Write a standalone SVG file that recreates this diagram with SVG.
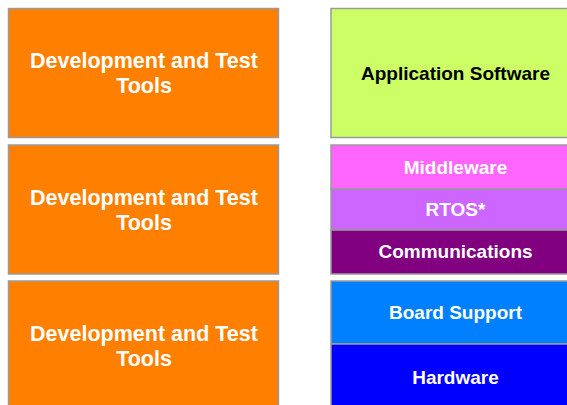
<svg xmlns="http://www.w3.org/2000/svg" width="567" height="405" viewBox="0 0 567 405">
<style>
.box{stroke:#9a9a9a;stroke-width:1.5}
.t{font-family:"Liberation Sans",Arial,sans-serif;font-weight:bold;text-anchor:middle;fill:#fff}
.l{font-size:21.5px}
.r{font-size:19px}
</style>
<rect width="567" height="405" fill="#fff"/>
<g id="devtools1"><rect class="box" x="8.5" y="8.5" width="270" height="129" fill="#FF8000"/><text class="t l" x="144" y="68">Development and Test</text><text class="t l" x="144" y="93">Tools</text></g>
<g id="devtools2"><rect class="box" x="8.5" y="145" width="270" height="129" fill="#FF8000"/><text class="t l" x="144" y="204.5">Development and Test</text><text class="t l" x="144" y="229.5">Tools</text></g>
<g id="devtools3"><rect class="box" x="8.5" y="281" width="270" height="129" fill="#FF8000"/><text class="t l" x="144" y="340.5">Development and Test</text><text class="t l" x="144" y="365.5">Tools</text></g>
<g id="appsw"><rect class="box" x="331" y="8.5" width="250" height="129" fill="#CCFF66"/><text class="t r" x="455.5" y="80" style="fill:#000">Application Software</text></g>
<g id="middleware"><rect class="box" x="331" y="145" width="250" height="44" fill="#FF66FF"/><text class="t r" x="455.5" y="174">Middleware</text></g>
<g id="rtos"><rect class="box" x="331" y="189" width="250" height="41" fill="#CC66FF"/><text class="t r" x="455.5" y="216">RTOS*</text></g>
<g id="comms"><rect class="box" x="331" y="230" width="250" height="44" fill="#800080"/><text class="t r" x="455.5" y="258">Communications</text></g>
<g id="bsp"><rect class="box" x="331" y="281" width="250" height="63" fill="#0080FF"/><text class="t r" x="455.5" y="319">Board Support</text></g>
<g id="hardware"><rect class="box" x="331" y="344" width="250" height="66" fill="#0000FF"/><text class="t r" x="455.5" y="384">Hardware</text></g>
<g id="connectors"></g>
</svg>
